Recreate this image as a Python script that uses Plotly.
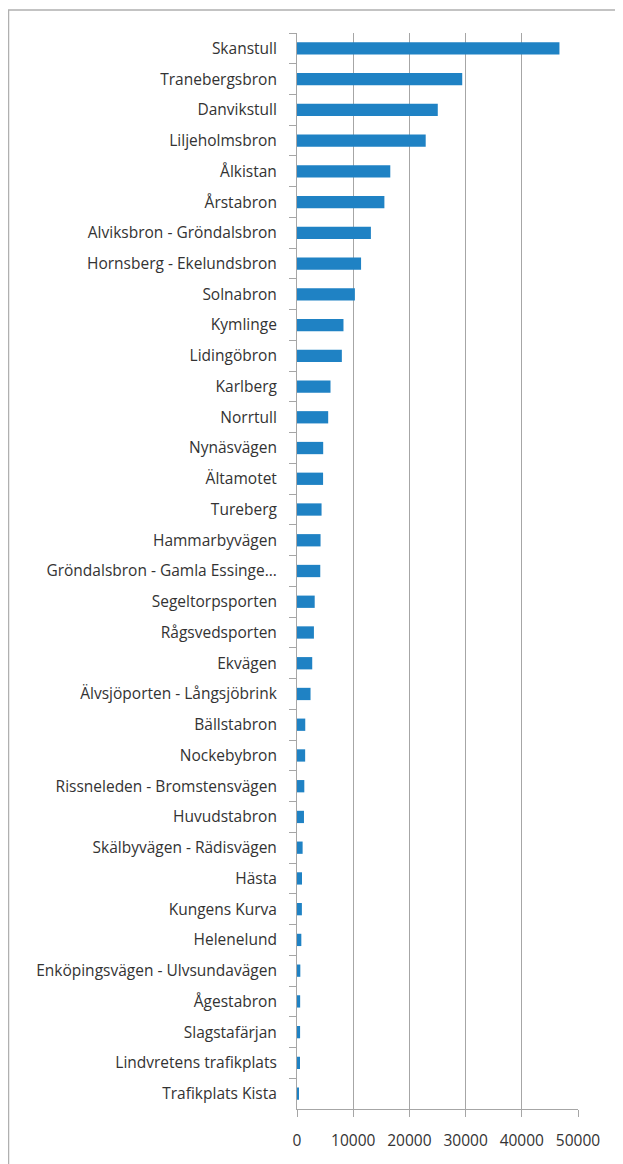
import plotly.graph_objects as go

# Stations, top to bottom as in the reference
stations = [
    'Skanstull', 'Tranebergsbron', 'Danvikstull', 'Liljeholmsbron', 'Ålkistan',
    'Årstabron', 'Alviksbron - Gröndalsbron', 'Hornsberg - Ekelundsbron',
    'Solnabron', 'Kymlinge', 'Lidingöbron', 'Karlberg', 'Norrtull',
    'Nynäsvägen', 'Ältamotet', 'Tureberg', 'Hammarbyvägen',
    'Gröndalsbron - Gamla Essinge...', 'Segeltorpsporten', 'Rågsvedsporten',
    'Ekvägen', 'Älvsjöporten - Långsjöbrink', 'Bällstabron', 'Nockebybron',
    'Rissneleden - Bromstensvägen', 'Huvudstabron', 'Skälbyvägen - Rädisvägen',
    'Hästa', 'Kungens Kurva', 'Helenelund', 'Enköpingsvägen - Ulvsundavägen',
    'Ågestabron', 'Slagstafärjan', 'Lindvretens trafikplats', 'Trafikplats Kista',
]
passages = [
    46700, 29400, 25050, 22900, 16600,
    15550, 13150, 11400, 10300, 8270,
    7980, 5960, 5550, 4660, 4640,
    4370, 4190, 4140, 3150, 3010,
    2710, 2410, 1470, 1450, 1300,
    1240, 1000, 890, 870, 770,
    590, 560, 550, 530, 350,
]
x_ticks = [0, 10000, 20000, 30000, 40000, 50000]

# page has an 8px body margin, so the figure is a bit smaller than the window
W, H = 615, 1156
ML, MR, MT, MB = 289, 45, 25, 55
axis_grey = '#a6a6a6'
text_col = '#333333'

fig = go.Figure(go.Bar(
    x=passages,
    y=stations,
    orientation='h',
    marker=dict(color='#1f82c4', line=dict(width=0)),
    width=0.4,
    showlegend=False,
))

fig.update_layout(
    width=W,
    height=H,
    margin=dict(l=ML, r=MR, t=MT, b=MB, pad=0),
    paper_bgcolor='white',
    plot_bgcolor='white',
    font=dict(family='Open Sans', size=15.5, color=text_col),
    bargap=0.6,
    xaxis=dict(
        range=[0, 50000],
        tickvals=x_ticks,
        ticktext=[str(v) for v in x_ticks],
        showgrid=True,
        gridcolor=axis_grey,
        gridwidth=1,
        showline=True,
        linecolor=axis_grey,
        linewidth=1,
        ticks='outside',
        ticklen=7,
        tickcolor=axis_grey,
        ticklabelstandoff=10,
        zeroline=False,
        fixedrange=True,
    ),
    yaxis=dict(
        categoryorder='array',
        categoryarray=stations,
        autorange='reversed',
        showgrid=False,
        showline=True,
        linecolor=axis_grey,
        linewidth=1,
        ticks='outside',
        tickson='boundaries',
        ticklen=7,
        tickcolor=axis_grey,
        ticklabelstandoff=16,
        fixedrange=True,
    ),
)

# outer chart frame (runs off the bottom of the picture)
pw = W - ML - MR
ph = H - MT - MB
fig.add_shape(
    type='rect', xref='paper', yref='paper',
    x0=(0.5 - ML) / pw, x1=(611 - ML) / pw,
    y0=(H - 1170 - MB) / ph, y1=(H - 2 - MB) / ph,
    line=dict(color='#b0b0b0', width=1.5),
    fillcolor='rgba(0,0,0,0)',
    layer='below',
)

fig.write_html('out.html')
